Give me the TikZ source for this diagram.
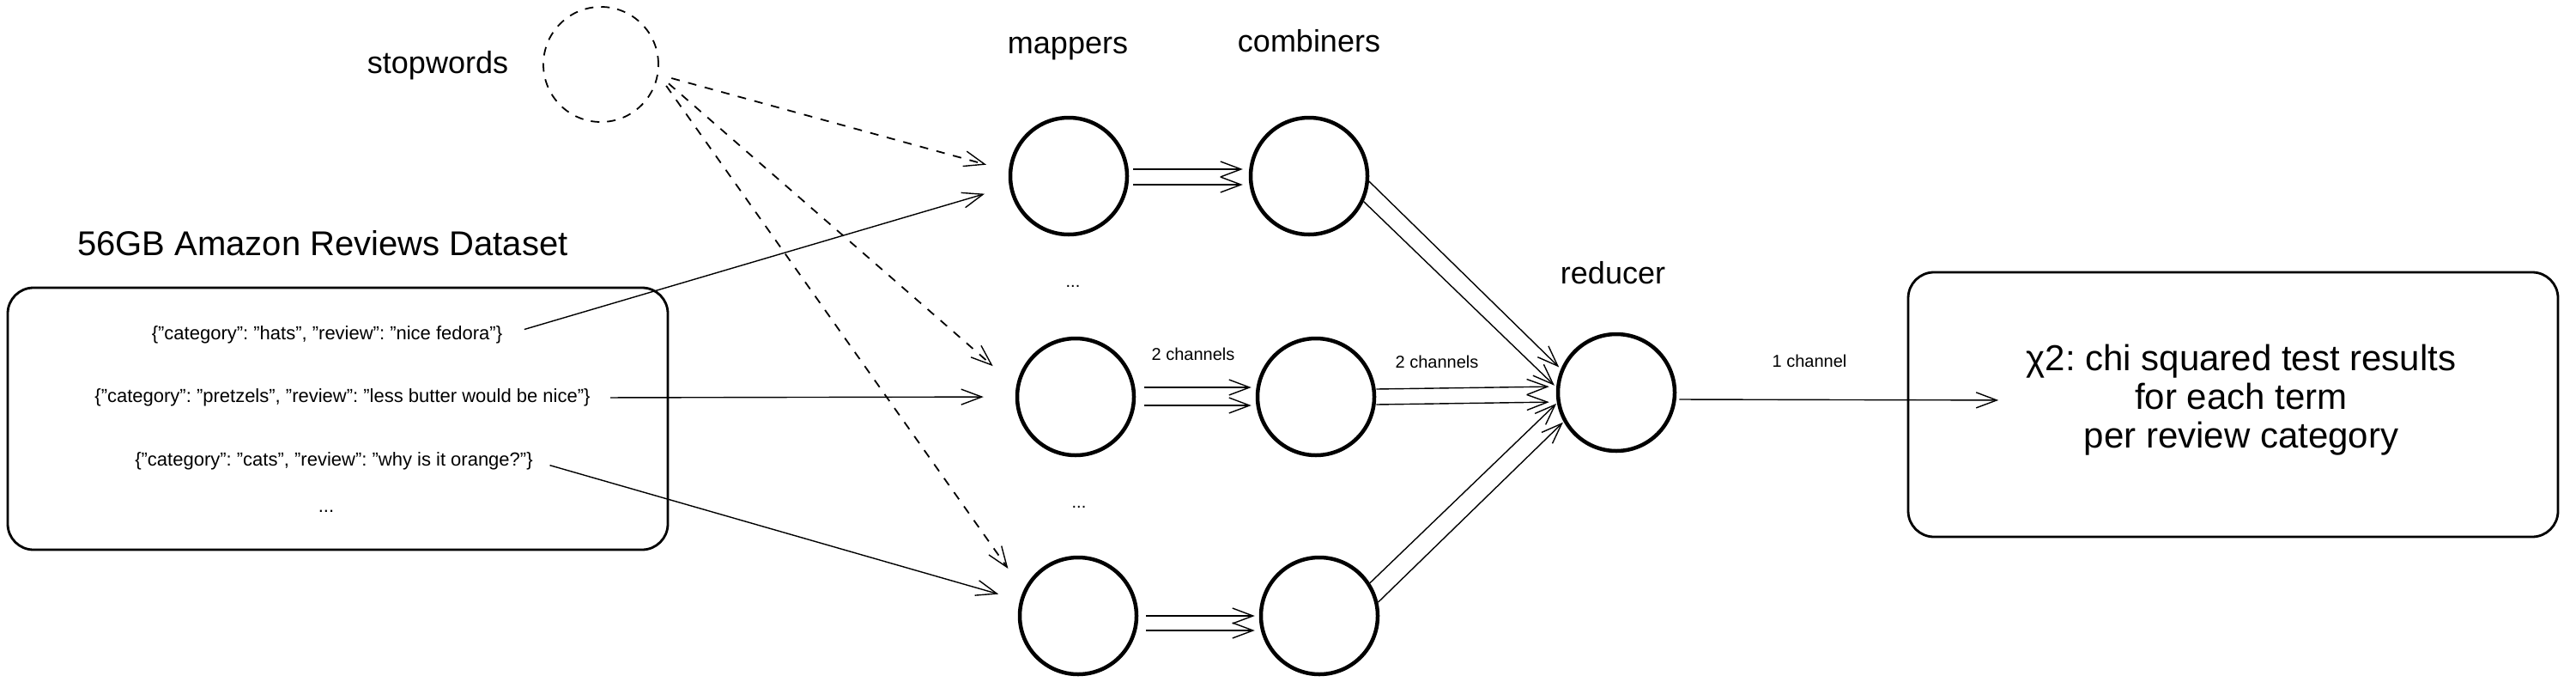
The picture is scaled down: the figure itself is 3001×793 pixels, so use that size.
\documentclass[tikz,border=0pt]{standalone}
\usepackage{fontspec}
\setmainfont{Liberation Sans}
\usetikzlibrary{arrows.meta}
\frenchspacing

\begin{document}
\begin{tikzpicture}[x=1pt,y=-1pt,
  worker/.style={circle,draw,line width=4.5pt,minimum size=136pt,inner sep=0pt},
  stopcircle/.style={circle,draw,line width=1.8pt,dash pattern=on 10pt off 9pt,minimum size=134pt,inner sep=0pt},
  panel/.style={draw,line width=2.8pt,rounded corners=30pt,inner sep=0pt},
  flow/.style={line width=1.4pt,-{Straight Barb[length=24pt,width=18pt,line width=1.4pt]}},
  stopflow/.style={flow,line width=1.8pt,dash pattern=on 10pt off 10pt},
  label/.style={font=\fontsize{36}{40}\selectfont},
  record/.style={font=\fontsize{22}{26}\selectfont},
  note/.style={font=\fontsize{20}{24}\selectfont}]

\useasboundingbox (0,0) rectangle (3001,793);

%stopwords
\node[label] (swlabel) at (510,76) {stopwords};
\node[stopcircle] (sw) at (700,75) {};

%dataset
\node[label,font=\fontsize{40}{44}\selectfont] (title) at (376,283) {56GB Amazon Reviews Dataset};
\node[panel,minimum width=769pt,minimum height=305pt] (data) at (393.5,487.5) {};
\node[record] (l1) at (381,390) {\{"category": "hats", "review": "nice fedora"\}};
\node[record] (l2) at (399,463) {\{"category": "pretzels", "review": "less butter would be nice"\}};
\node[record] (l3) at (389,537) {\{"category": "cats", "review": "why is it orange?"\}};
\node[record] (l4) at (380,595) {...};

%mappers and combiners
\node[label] (mlabel) at (1244,57) {mappers};
\node[label] (clabel) at (1525,48) {combiners};

\node[worker] (m1) at (1245,205) {};
\node[worker] (m2) at (1253,462) {};
\node[worker] (m3) at (1256,717) {};
\node[worker] (c1) at (1525,205) {};
\node[worker] (c2) at (1533,462) {};
\node[worker] (c3) at (1537,717) {};

\node[note] (mdots1) at (1250,333) {...};
\node[note] (mdots2) at (1257,590) {...};

%reducer
\node[label] (rlabel) at (1879,318) {reducer};
\node[worker] (r) at (1883,457) {};

%results
\node[panel,minimum width=757pt,minimum height=308pt] (res) at (2601.5,471) {};
\node[align=center,font=\fontsize{42}{45}\selectfont] (restext) at (2611,466)
  {χ2: chi squared test results\\for each term\\per review category};

%channel labels
\node[note] (ch1) at (1390,412) {2 channels};
\node[note] (ch2) at (1674,421) {2 channels};
\node[note] (ch3) at (2108,420) {1 channel};

%dataset to mappers
\draw[flow,shorten <=23pt,shorten >=30pt] (l1.east) -- (m1.190);
\draw[flow,shorten <=20pt,shorten >=37pt] (l2.east) -- (m2.west);
\draw[flow,shorten <=17pt,shorten >=26pt] (l3.east) -- (m3.165);

%stopwords to mappers
\draw[stopflow,shorten <=16pt,shorten >=27pt] (sw.-10) -- (m1.175);
\draw[stopflow,shorten <=16pt,shorten >=36pt] (sw.-10) -- (m2.170);
\draw[stopflow,shorten <=16pt,shorten >=31pt] (sw.-10) -- (m3.155);

%mappers to combiners
\draw[flow,shorten <=5pt,shorten >=7pt] ([yshift=8pt]m1.east) -- ([yshift=8pt]c1.west);
\draw[flow,shorten <=5pt,shorten >=7pt] ([yshift=-10pt]m1.east) -- ([yshift=-10pt]c1.west);
\draw[flow,shorten <=10pt,shorten >=5pt] ([yshift=11pt]m2.east) -- ([yshift=11pt]c2.west);
\draw[flow,shorten <=10pt,shorten >=5pt] ([yshift=-10pt]m2.east) -- ([yshift=-10pt]c2.west);
\draw[flow,shorten <=9pt,shorten >=5pt] (m3.east) -- (c3.west);
\draw[flow,shorten <=9pt,shorten >=5pt] ([yshift=-17pt]m3.east) -- ([yshift=-17pt]c3.west);

%combiners to reducer
\draw[flow,shorten >=3pt] (c1.-5) -- (r.157);
\draw[flow,shorten >=3pt] (c1.-25) -- (r.175);
\draw[flow,shorten >=8pt] ([yshift=9pt]c2.east) -- ([yshift=7pt]r.west);
\draw[flow,shorten >=8pt] ([yshift=-9pt]c2.east) -- ([yshift=-11pt]r.west);
\draw[flow,shorten >=1pt] (c3.33) -- (r.190);
\draw[flow,shorten >=1pt] (c3.13) -- (r.209);

%reducer to results
\draw[flow,shorten <=3pt,shorten >=29pt] ([yshift=-8pt]r.east) -- (restext.west);

\end{tikzpicture}
\end{document}
